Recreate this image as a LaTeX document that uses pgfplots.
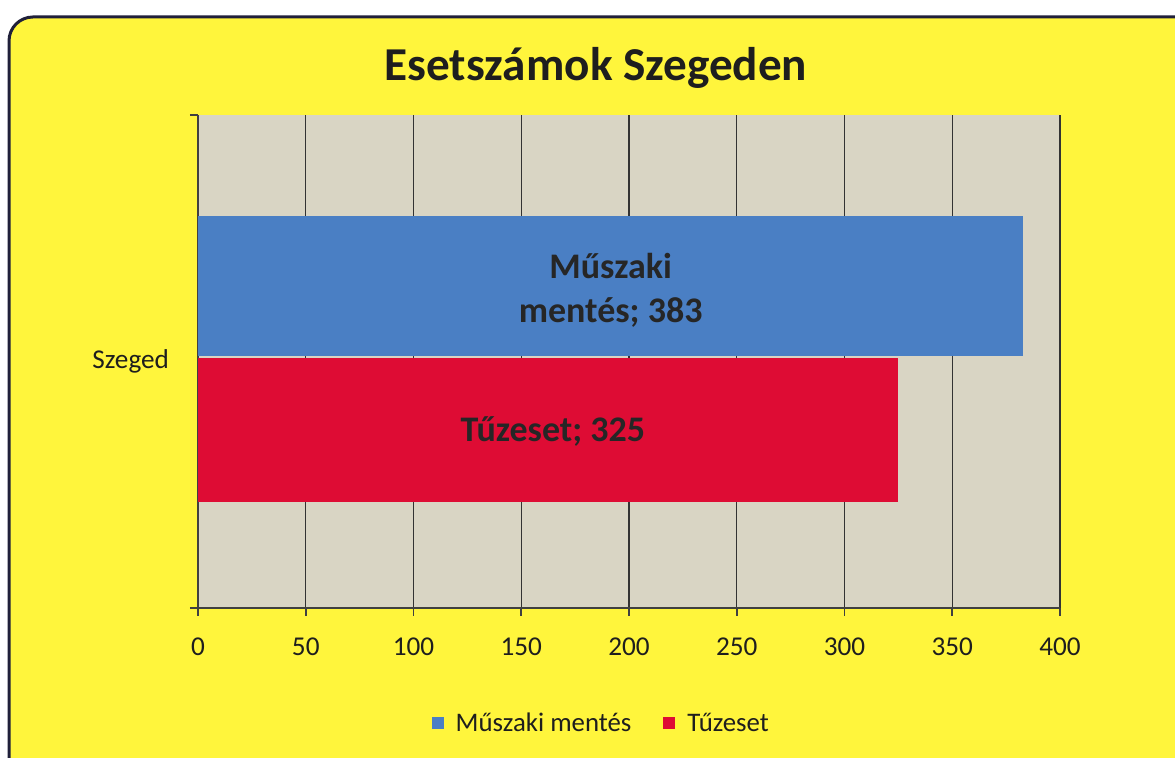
\documentclass[border=0pt]{standalone}
\usepackage{pgfplots}
\pgfplotsset{compat=1.18}
\usepackage{fontspec}
\setmainfont{Carlito}
\definecolor{bgyellow}{RGB}{255,245,60}
\definecolor{plotbg}{RGB}{217,213,196}
\definecolor{barblue}{RGB}{74,127,196}
\definecolor{barred}{RGB}{222,12,52}
\definecolor{framec}{RGB}{32,32,58}
\definecolor{txt}{RGB}{30,30,30}
\begin{document}
\begin{tikzpicture}
\useasboundingbox (0,0) rectangle (587.5pt,379pt);
\clip (0,0) rectangle (587.5pt,379pt);
\fill[white] (0,0) rectangle (587.5pt,379pt);
\draw[line width=1.5pt, draw=framec, fill=bgyellow, rounded corners=12pt] (4.5pt,-20pt) rectangle (610pt,370.5pt);
\node[font=\bfseries\fontsize{23.6}{28}\selectfont, text=txt] at (298pt,345pt) {Esetszámok Szegeden};
\begin{axis}[
  at={(99pt,75pt)}, anchor=south west,
  scale only axis, width=431pt, height=246.5pt,
  xbar, xmin=0, xmax=400, ymin=-1, ymax=1,
  xtick={0,50,...,400},
  ytick={-1,1}, yticklabels={,},
  extra y ticks={0}, extra y tick labels={Szeged},
  extra y tick style={major tick length=0pt},
  axis x line*=bottom, axis y line*=left,
  axis line style={draw=black!75, line width=0.8pt},
  tick style={draw=black!75, line width=0.8pt},
  tick align=outside, major tick length=4pt,
  xmajorgrids, grid style={draw=black!80, line width=0.7pt},
  axis background/.style={fill=plotbg},
  /pgf/number format/assume math mode=true,
  ticklabel style={font=\fontsize{13.6}{16}\selectfont, text=txt},
  xticklabel style={yshift=-7.5pt},
  yticklabel style={xshift=-11pt},
  legend columns=2,
  legend style={at={(0.469,-0.234)}, anchor=center, draw=none, fill=none,
    font=\fontsize{13.4}{16}\selectfont, text=txt,
    /tikz/every odd column/.append style={column sep=4pt},
    /tikz/every even column/.append style={column sep=14pt}},
  legend image code/.code={\fill[#1,draw=none] (0pt,-3pt) rectangle (6pt,3pt);},
]
\addplot[fill=barblue, draw=none, bar width=70pt, bar shift=37.75pt] coordinates {(383,0)};
\addplot[fill=barred, draw=none, bar width=72pt, bar shift=-34.25pt] coordinates {(325,0)};
\legend{Műszaki mentés, Tűzeset}
\node[font=\bfseries\fontsize{18}{22}\selectfont, text=black!85, align=center] at (axis cs:191.5,0.29) {Műszaki\\mentés; 383};
\node[font=\bfseries\fontsize{18}{22}\selectfont, text=black!85] at (axis cs:164.7,-0.286) {Tűzeset; 325};
\end{axis}
\end{tikzpicture}
\end{document}
